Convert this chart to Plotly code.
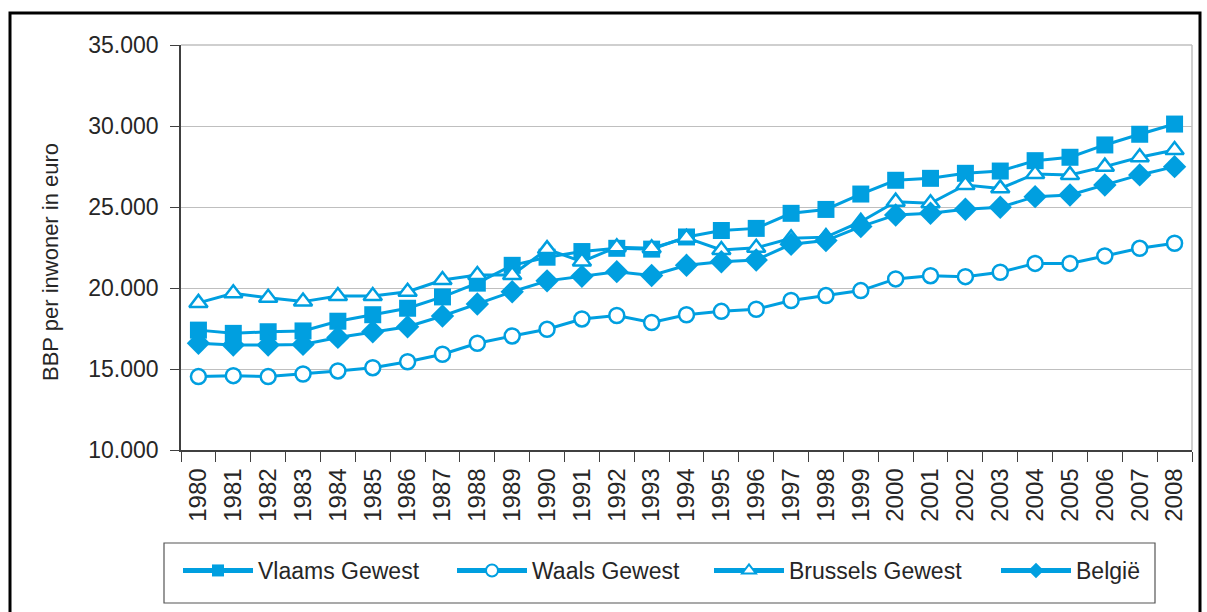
import plotly.graph_objects as go

years = [str(y) for y in range(1980, 2009)]

vlaams = [17400, 17200, 17300, 17350, 17950, 18350, 18750, 19450, 20300, 21400,
          21900, 22250, 22450, 22400, 23150, 23550, 23680, 24610, 24850, 25800,
          26650, 26770, 27080, 27220, 27860, 28070, 28830, 29490, 30120]
waals = [14530, 14590, 14530, 14690, 14880, 15080, 15450, 15910, 16590, 17040,
         17450, 18090, 18300, 17870, 18350, 18560, 18690, 19230, 19530, 19840,
         20560, 20760, 20700, 20970, 21520, 21520, 21980, 22450, 22760]
brussels = [19080, 19670, 19400, 19160, 19510, 19510, 19770, 20490, 20800, 20800,
            22400, 21630, 22520, 22450, 23100, 22350, 22480, 23070, 23140, 24090,
            25330, 25230, 26360, 26150, 27040, 26980, 27490, 28070, 28520]
belgie = [16590, 16480, 16480, 16520, 16950, 17300, 17610, 18270, 19010, 19770,
          20440, 20720, 21010, 20770, 21400, 21620, 21730, 22700, 22930, 23790,
          24510, 24610, 24860, 24980, 25640, 25740, 26360, 26980, 27490]

BLUE = "#009FE0"
FONT = "Liberation Sans, Arial, sans-serif"
TXT = "#262626"

L, R, T, B = 181, 15, 45, 162
W, H = 1207, 612
pw, ph = W - L - R, H - T - B

def px(x):
    return (x - L) / pw

def py(y):
    return (H - B - y) / ph

series = [
    ("Vlaams Gewest", vlaams, dict(symbol="square", size=17, color=BLUE), "legend", 178),
    ("Waals Gewest", waals, dict(symbol="circle", size=15, color="white",
                                 line=dict(color=BLUE, width=2.5)), "legend2", 452),
    ("Brussels Gewest", brussels, dict(symbol="triangle-up", size=16, color="white",
                                       line=dict(color=BLUE, width=2.5)), "legend3", 709),
    ("België", belgie, dict(symbol="diamond", size=18, color=BLUE), "legend4", 996),
]

fig = go.Figure()
legends = {}
for name, vals, mk, lg, lx in series:
    fig.add_trace(go.Scatter(x=years, y=vals, name=name, mode="lines+markers",
                             line=dict(color=BLUE, width=3), marker=mk, legend=lg))
    legends[lg] = dict(orientation="h", x=px(lx), y=py(549), xanchor="left", yanchor="top",
                       bgcolor="rgba(0,0,0,0)", borderwidth=0,
                       font=dict(family=FONT, size=23, color=TXT),
                       itemwidth=70, itemsizing="constant")

fig.update_layout(
    width=W, height=H,
    margin=dict(l=L, r=R, t=T, b=B),
    paper_bgcolor="white", plot_bgcolor="white",
    separators=",.",
    font=dict(family=FONT, size=23, color=TXT),
    showlegend=True,
    xaxis=dict(type="category", range=[-0.5, 28.5], tickson="boundaries",
               ticks="outside", ticklen=10, tickcolor="#404040", tickwidth=1,
               showline=True, linecolor="#404040", linewidth=1.5,
               showgrid=False, tickangle=-90, ticklabelstandoff=7,
               tickfont=dict(family=FONT, size=24, color=TXT)),
    yaxis=dict(range=[10000, 35000], dtick=5000, tick0=10000, tickformat=",.0f",
               ticks="outside", ticklen=9, tickcolor="#404040",
               showline=True, linecolor="#404040", linewidth=1.5,
               showgrid=True, gridcolor="#BFBFBF", gridwidth=1,
               zeroline=False, ticklabelstandoff=7,
               tickfont=dict(family=FONT, size=23, color=TXT)),
    annotations=[
        dict(text="BBP per inwoner in euro", xref="paper", yref="paper",
             x=px(50), y=py(262), xanchor="center", yanchor="middle",
             textangle=-90, showarrow=False,
             font=dict(family=FONT, size=22, color=TXT)),
    ],
    shapes=[
        dict(type="line", xref="paper", yref="paper", x0=1, x1=1, y0=0, y1=1,
             line=dict(color="#BFBFBF", width=1.5)),
        dict(type="line", xref="paper", yref="paper", x0=0, x1=1, y0=1, y1=1,
             line=dict(color="#BFBFBF", width=1.5)),
        dict(type="rect", xref="paper", yref="paper",
             x0=px(164), x1=px(1155), y0=py(603), y1=py(543),
             line=dict(color="#555555", width=1.2), fillcolor="rgba(0,0,0,0)"),
        dict(type="rect", xref="paper", yref="paper",
             x0=px(10), x1=px(1200), y0=py(625), y1=py(13),
             line=dict(color="black", width=3), fillcolor="rgba(0,0,0,0)", layer="above"),
    ],
    **legends,
)

fig.write_html("out.html", config={"displayModeBar": False},
               post_script="document.body.style.margin='0';document.body.style.overflow='hidden';")
